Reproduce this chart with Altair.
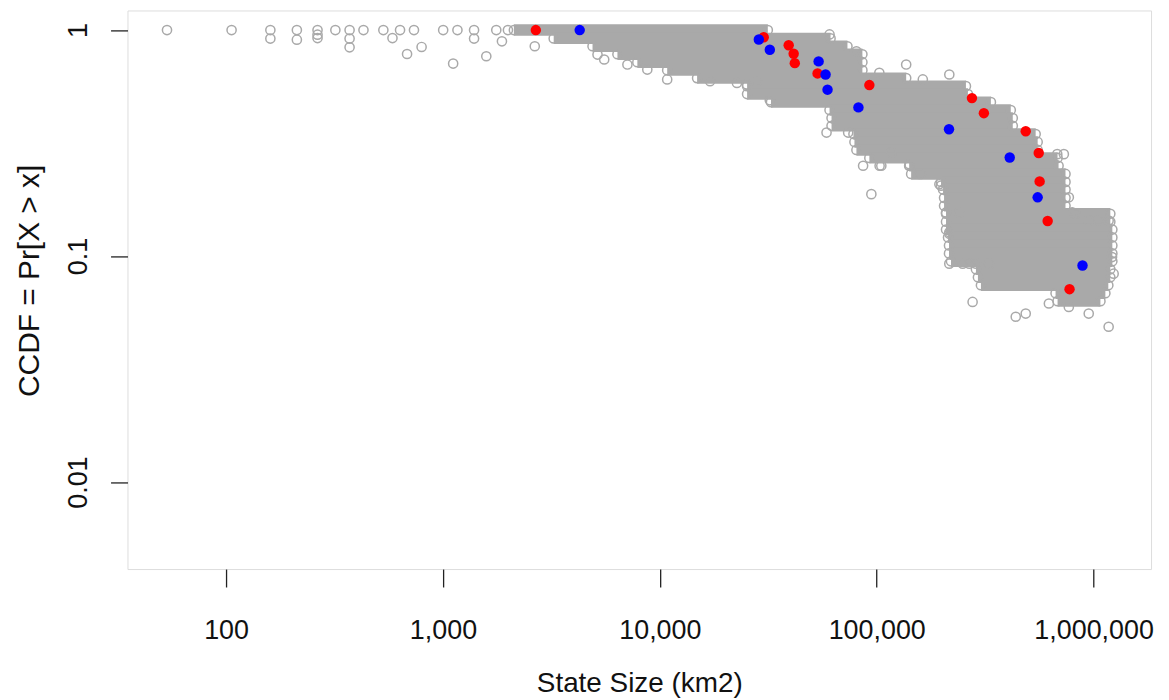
import altair as alt
import pandas as pd

GRAY = "#a9a9a9"
FONT = "Liberation Sans"

# --- coloured highlighted states (area km2, CCDF) ---
red_area = [2680, 30130, 39270, 41400, 41900, 53350, 92480, 274800, 311900, 486400, 558400, 563700, 613800, 774500]
red_ccdf = [1.0, 0.929, 0.857, 0.786, 0.714, 0.643, 0.571, 0.5, 0.429, 0.357, 0.286, 0.214, 0.143, 0.0714]

blue_area = [4270, 28600, 32140, 53950, 58080, 59310, 82330, 215400, 410400, 552100, 888700]
blue_ccdf = [1.0, 0.909, 0.818, 0.727, 0.636, 0.545, 0.455, 0.364, 0.273, 0.182, 0.0909]

# --- dense gray cloud: rows of overlapping circles (CCDF level, smallest and largest area) ---
row_ccdf = [1.0, 0.919, 0.848, 0.782, 0.721, 0.665, 0.613, 0.565, 0.521, 0.480, 0.443, 0.408,
            0.377, 0.347, 0.320, 0.295, 0.272, 0.251, 0.231, 0.213, 0.197, 0.181, 0.167,
            0.154, 0.142, 0.131, 0.121, 0.1115, 0.1028, 0.0948, 0.0874, 0.0806, 0.0743,
            0.0685, 0.0632]
row_min = [2123, 3240, 4893, 6374, 7875, 10810, 14850, 25250, 25250, 32540, 60590, 61890,
           61890, 78100, 78930, 80600, 92470, 141100, 144100, 197900, 202200, 204400, 204400,
           208700, 208700, 208700, 213200, 215400, 215400, 220000, 286700, 292800, 302300,
           667700, 682000]
row_max = [31460, 61240, 73280, 85880, 85880, 85880, 136700, 257800, 263300, 336000, 415000, 423900,
           423900, 540500, 552100, 552100, 682000, 689300, 742000, 742000, 742000, 742000, 742000,
           1194000, 1194000, 1220000, 1220000, 1220000, 1220000, 1220000, 1194000, 1194000, 1169000,
           1133000, 1075000]

# --- individual gray circles (scattered ones and cloud edges) ---
gray_area = [53.4, 106, 160, 160, 212, 212, 264, 264, 264, 319, 371, 371, 371, 430, 531, 585,
             634, 735, 683, 797, 1002, 1166, 1391, 1391, 1114, 1584, 1761, 1870, 1993, 2650,
             5159, 5539, 7086, 8752, 10810, 17040, 22670, 25200, 28000, 32130, 60590, 80600,
             102800, 58690, 73830, 86520, 103100, 94450, 116700, 141600, 160200, 194500,
             216100, 216100, 267000, 136700, 163100, 216100, 105000, 141600, 156900, 197900,
             208700, 240300, 216100, 249000, 286700, 330000, 276700, 437500, 486400, 622000,
             768700, 949500, 1173000, 825000, 949500, 1055000, 1173000, 1216000, 1237000,
             796600, 679800, 729000, 768700]
gray_ccdf = [1.0, 1.0, 1.0, 0.917, 1.0, 0.907, 1.0, 0.954, 0.922, 1.0, 1.0, 0.917, 0.839, 1.0, 1.0, 0.922,
             1.0, 1.0, 0.784, 0.842, 1.0, 1.0, 1.0, 0.917, 0.711, 0.766, 1.0, 0.892, 1.0, 0.848,
             0.779, 0.741, 0.704, 0.669, 0.605, 0.594, 0.584, 0.575, 0.594, 0.489, 0.957, 0.806,
             0.647, 0.352, 0.352, 0.251, 0.251, 0.188, 0.287, 0.251, 0.231, 0.208,
             0.1255, 0.0926, 0.0926, 0.704, 0.605, 0.636, 0.251, 0.255, 0.231, 0.205,
             0.156, 0.156, 0.1276, 0.0926, 0.0926, 0.0926, 0.0627, 0.0539, 0.0557, 0.0617,
             0.0596, 0.0557, 0.0487, 0.1538, 0.1437, 0.1437, 0.1437, 0.099, 0.0836,
             0.156, 0.2826, 0.2826, 0.182]

x_ticks = [100, 1000, 10000, 100000, 1000000]
y_ticks = [0.01, 0.1, 1]

rows = pd.DataFrame({"ccdf": row_ccdf, "lo": row_min, "hi": row_max})
row_ends = pd.DataFrame({"area": row_min + row_max, "ccdf": row_ccdf + row_ccdf})
gray = pd.DataFrame({"area": gray_area, "ccdf": gray_ccdf})
red = pd.DataFrame({"area": red_area, "ccdf": red_ccdf})
blue = pd.DataFrame({"area": blue_area, "ccdf": blue_ccdf})

xscale = alt.Scale(type="log", domain=[35.1, 1840000], nice=False)
yscale = alt.Scale(type="log", domain=[0.004124, 1.221], nice=False)

xaxis = alt.Axis(values=x_ticks, format=",.0f", title="State Size (km2)", grid=False, domain=False,
                 tickSize=18, tickColor="#222", tickWidth=1.3, labelFont=FONT, labelFontSize=27,
                 labelColor="#111", labelPadding=31, titleFont=FONT, titleFontSize=28,
                 titleFontWeight="normal", titleColor="#111", titleY=123, titleBaseline="alphabetic")
yaxis = alt.Axis(values=y_ticks, format="~g", title="CCDF = Pr[X > x]", grid=False, domain=False,
                 tickSize=17, tickColor="#222", tickWidth=1.3, labelFont=FONT, labelFontSize=27,
                 labelColor="#111", labelAngle=-90, labelAlign="center", labelBaseline="bottom",
                 labelPadding=18, titleFont=FONT, titleFontSize=30, titleFontWeight="normal",
                 titleColor="#111", titleAngle=-90, titleX=-98, titleY=271, titleAlign="center",
                 titleBaseline="middle")

band = alt.Chart(rows).mark_rule(color=GRAY, strokeWidth=11.5, strokeCap="butt").encode(
    x=alt.X("lo:Q", scale=xscale, axis=xaxis),
    x2="hi:Q",
    y=alt.Y("ccdf:Q", scale=yscale, axis=yaxis),
)
ends = alt.Chart(row_ends).mark_point(shape="circle", filled=False, color=GRAY, size=85,
                                      strokeWidth=1.5, opacity=1).encode(
    x=alt.X("area:Q", scale=xscale), y=alt.Y("ccdf:Q", scale=yscale))
pts = alt.Chart(gray).mark_point(shape="circle", filled=False, color=GRAY, size=85,
                                 strokeWidth=1.5, opacity=1).encode(
    x=alt.X("area:Q", scale=xscale), y=alt.Y("ccdf:Q", scale=yscale))
rpts = alt.Chart(red).mark_circle(color="#ff0000", size=110, opacity=1).encode(
    x=alt.X("area:Q", scale=xscale), y=alt.Y("ccdf:Q", scale=yscale))
bpts = alt.Chart(blue).mark_circle(color="#0000ff", size=110, opacity=1).encode(
    x=alt.X("area:Q", scale=xscale), y=alt.Y("ccdf:Q", scale=yscale))

chart = alt.layer(band, ends, pts, rpts, bpts).properties(
    width=1028, height=561,
    autosize=alt.AutoSizeParams(type="none"),
    padding={"left": 120, "top": 1, "right": 10, "bottom": 128},
).configure_view(stroke="#111", strokeWidth=1.5).configure(background="white")

chart.save("out.html", embed_options={"renderer": "svg", "actions": False})
